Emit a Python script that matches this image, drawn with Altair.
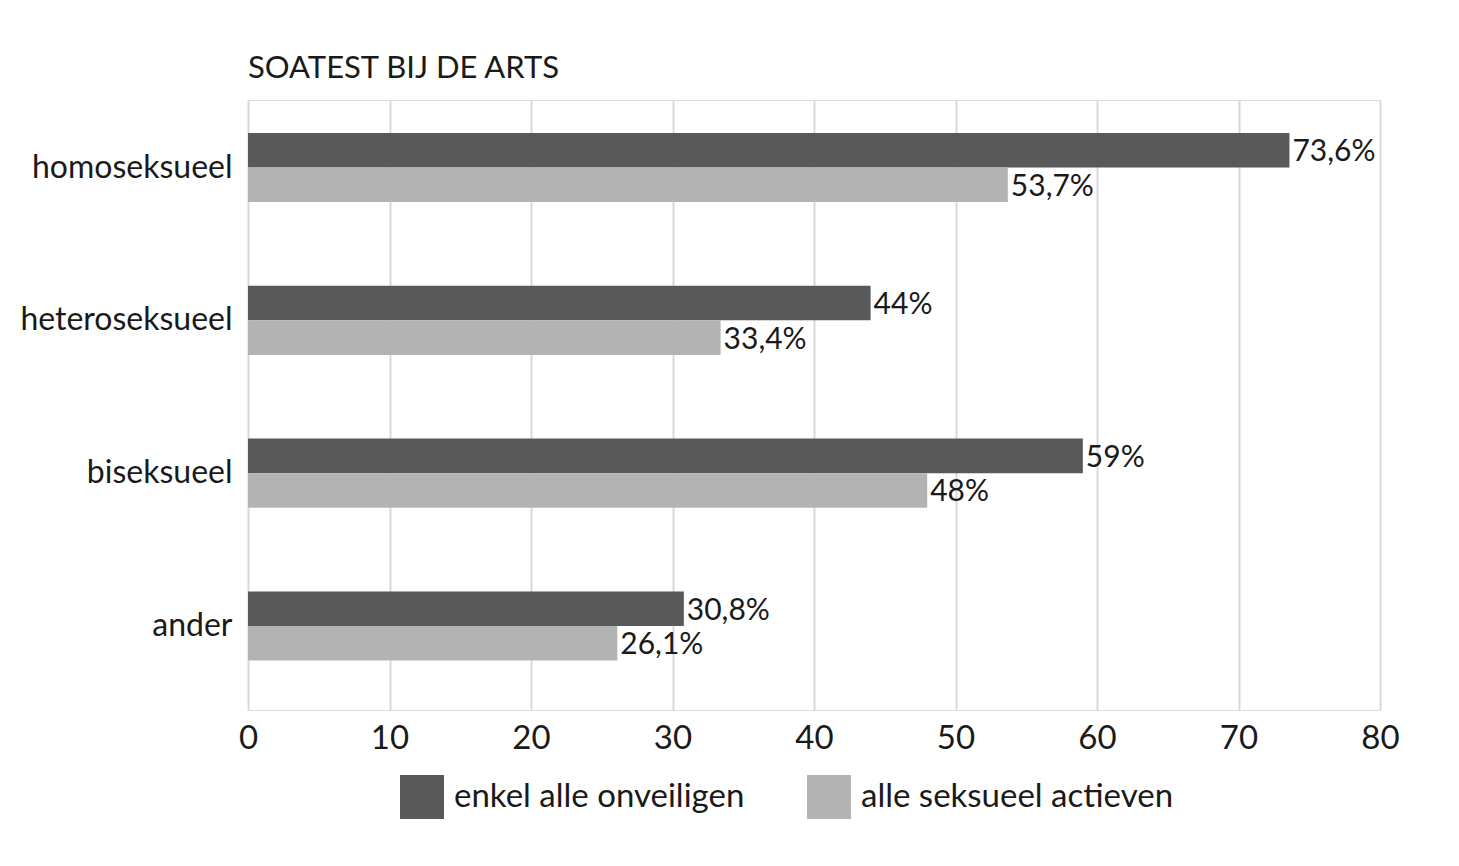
import altair as alt
import pandas as pd

categories = ["homoseksueel", "heteroseksueel", "biseksueel", "ander"]
series_names = ["enkel alle onveiligen", "alle seksueel actieven"]
onveilig = [73.6, 44, 59, 30.8]
actief = [53.7, 33.4, 48, 26.1]
colors = ["#595959", "#b3b3b3"]
x_ticks = [0, 10, 20, 30, 40, 50, 60, 70, 80]


def fmt(v):
    s = ("%g" % v).replace(".", ",")
    return s + "%"


rows = []
for c, a, b in zip(categories, onveilig, actief):
    rows.append({"cat": c, "serie": series_names[0], "val": a, "lab": fmt(a)})
    rows.append({"cat": c, "serie": series_names[1], "val": b, "lab": fmt(b)})
df = pd.DataFrame(rows)

FONT = "Lato"
TXT = "#1a1a1a"

y_enc = alt.Y(
    "cat:N",
    sort=categories,
    title=None,
    scale=alt.Scale(paddingInner=0.548, paddingOuter=0.27, align=0.4),
    axis=alt.Axis(domain=False, ticks=False, grid=False, labelPadding=16,
                  labelFontSize=32, labelFont=FONT, labelColor=TXT, labelLimit=400),
)
yoff = alt.YOffset("serie:N", sort=series_names,
                   scale=alt.Scale(paddingInner=0, paddingOuter=0))
x_enc = alt.X(
    "val:Q",
    title=None,
    scale=alt.Scale(domain=[0, 80], nice=False, zero=True),
    axis=alt.Axis(values=x_ticks, domain=False, ticks=False, grid=True,
                  gridColor="#d9d9d9", gridWidth=2, labelPadding=12,
                  labelFontSize=33, labelFont=FONT, labelColor=TXT,
                  labelFlush=False),
)

bars = alt.Chart(df).mark_bar().encode(
    y=y_enc,
    yOffset=yoff,
    x=x_enc,
    color=alt.Color(
        "serie:N",
        sort=series_names,
        scale=alt.Scale(domain=series_names, range=colors),
        legend=alt.Legend(
            title=None, orient="none", legendX=152, legendY=675,
            direction="horizontal", symbolType="square", symbolSize=1936,
            symbolStrokeWidth=0, labelFontSize=33, labelFont=FONT,
            labelColor=TXT, labelOffset=10, columnPadding=62,
            labelLimit=500,
        ),
    ),
)

labels = alt.Chart(df).mark_text(
    align="left", baseline="middle", dx=3, dy=2, fontSize=30, font=FONT, color=TXT
).encode(
    y=alt.Y("cat:N", sort=categories),
    yOffset=alt.YOffset("serie:N", sort=series_names),
    x="val:Q",
    text="lab:N",
)

chart = (
    alt.layer(bars, labels)
    .properties(
        width=1132,
        height=610,
        autosize=alt.AutoSizeParams(type="none"),
        padding={"left": 248, "top": 100, "right": 79, "bottom": 156},
        title=alt.TitleParams(
            "SOATEST BIJ DE ARTS", anchor="start", frame="group", fontSize=31,
            fontWeight="normal", font=FONT, color=TXT, offset=15,
        ),
    )
    .configure_view(stroke="#d9d9d9", strokeWidth=2)
    .configure(background="white")
)

chart.save("out.html", embed_options={"renderer": "svg", "actions": False})
